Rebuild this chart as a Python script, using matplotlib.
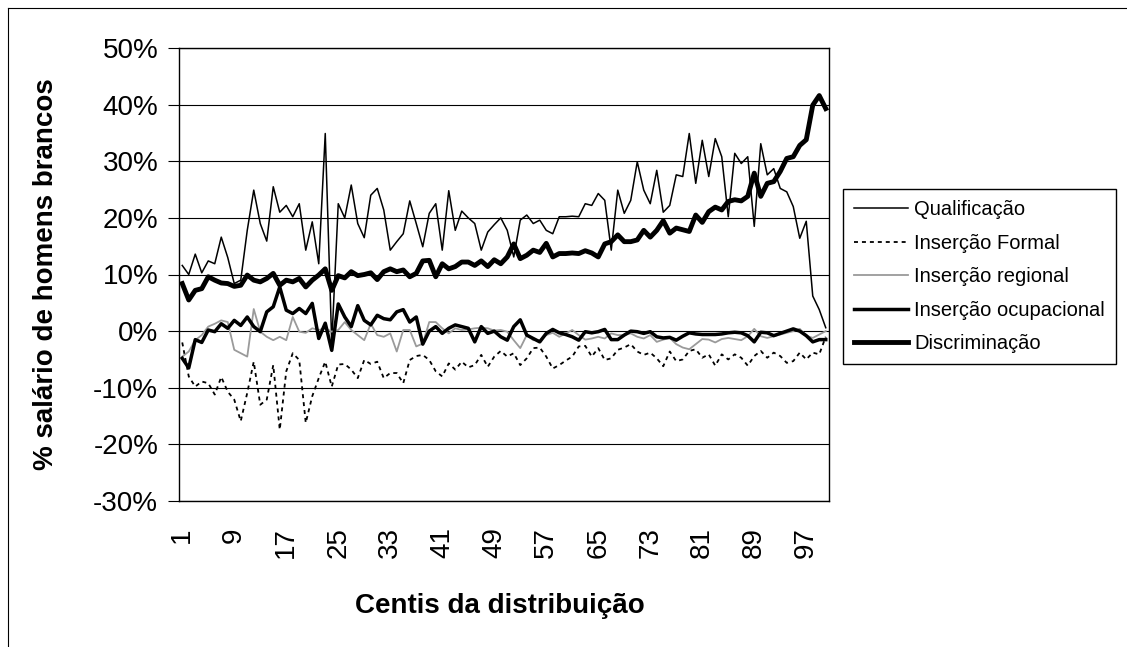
import matplotlib
matplotlib.use('Agg')
import matplotlib.pyplot as plt
from matplotlib.ticker import FuncFormatter
from matplotlib.lines import Line2D

plt.rcParams['font.family'] = ['Liberation Sans', 'DejaVu Sans']

centis = list(range(1, 101))
tick_centis = list(range(1, 100, 8))

qualificacao = [11.6, 10.0, 13.6, 10.3, 12.4, 11.9, 16.6, 13.0, 8.4, 9.0,
                17.8, 24.9, 19.0, 15.9, 25.5, 21.0, 22.2, 20.2, 22.5, 14.3,
                19.3, 11.9, 34.9, -2.2, 22.5, 20.0, 25.8, 19.0, 16.5, 24.0,
                25.2, 21.4, 14.3, 15.8, 17.2, 23.0, 19.0, 14.9, 20.8, 22.5,
                14.3, 24.8, 17.8, 21.2, 20.0, 19.0, 14.3, 17.5, 18.8, 20.0,
                17.8, 13.1, 19.6, 20.5, 19.0, 19.6, 17.8, 17.2, 20.2, 20.2,
                20.3, 20.2, 22.5, 22.2, 24.3, 23.1, 14.3, 24.9, 20.8, 23.1,
                29.9, 24.9, 22.5, 28.4, 21.0, 22.2, 27.6, 27.3, 34.9, 26.1,
                33.7, 27.3, 34.0, 30.8, 20.2, 31.4, 29.6, 30.8, 18.5, 33.1,
                27.6, 28.7, 25.2, 24.6, 22.0, 16.4, 19.4, 6.2, 3.8, 0.6]

insercao_formal = [-2.0, -8.0, -9.8, -8.9, -9.2, -11.2, -8.1, -10.7, -12.1, -15.9,
                   -10.9, -5.4, -13.0, -12.1, -6.0, -17.4, -7.1, -3.9, -5.1, -16.2,
                   -11.5, -8.3, -5.4, -9.8, -5.9, -5.8, -6.8, -8.3, -5.1, -5.8,
                   -5.4, -8.3, -7.4, -7.4, -9.2, -5.1, -4.4, -4.2, -5.1, -7.1,
                   -8.0, -5.7, -6.8, -5.4, -6.4, -6.0, -4.2, -6.3, -4.5, -3.5,
                   -4.5, -3.9, -6.0, -4.8, -3.0, -2.9, -4.5, -6.6, -6.0, -5.2,
                   -4.5, -2.7, -2.6, -4.5, -3.0, -5.1, -4.8, -3.3, -2.9, -2.3,
                   -3.6, -4.2, -3.8, -4.8, -6.2, -3.6, -5.3, -5.0, -3.5, -3.2,
                   -4.7, -4.1, -6.1, -4.1, -5.0, -4.1, -4.7, -6.1, -4.4, -3.5,
                   -4.7, -3.8, -4.4, -5.6, -5.3, -3.8, -5.0, -3.8, -4.1, -1.0]

insercao_regional = [-4.5, -3.6, -1.6, -0.7, 0.8, 1.3, 1.9, 1.6, -3.3, -3.9,
                     -4.5, 3.9, -0.1, -1.0, -1.6, -1.0, -1.6, 2.5, -0.1, -0.3,
                     0.5, 0.2, 0.5, -0.1, 0.2, 1.6, 0.2, -0.7, -1.6, 1.3,
                     -0.7, -1.0, -0.4, -3.6, 0.2, 0.2, -2.7, -2.2, 1.6, 1.6,
                     0.5, -0.4, 0.5, 0.2, 0.3, 0.5, 0.6, 0.5, 0.1, 0.2,
                     -0.1, -1.6, -3.0, -0.7, -1.6, -1.6, -0.7, -0.3, -1.0, -0.4,
                     0.2, -0.7, -1.5, -1.3, -1.0, -1.3, -0.4, -0.7, -0.7, -0.4,
                     -1.0, -1.3, -0.7, -1.9, -1.5, -1.2, -2.3, -2.9, -3.2, -2.3,
                     -1.4, -1.5, -2.0, -1.4, -1.2, -1.4, -1.6, -0.9, 0.4, -0.9,
                     -1.2, -0.9, -0.6, -0.3, 0.0, 0.4, -0.8, -1.2, -0.6, 0.0]

insercao_ocupacional = [-4.8, -6.5, -1.5, -2.0, 0.2, -0.1, 1.3, 0.5, 1.9, 1.0,
                        2.5, 0.8, -0.1, 3.4, 4.3, 7.8, 3.7, 3.1, 4.0, 3.1,
                        4.9, -1.3, 1.4, -3.4, 4.8, 2.5, 0.8, 4.5, 1.9, 1.1,
                        2.8, 2.2, 2.0, 3.4, 3.8, 1.6, 2.5, -2.3, 0.0, 0.8,
                        -0.4, 0.5, 1.1, 0.8, 0.5, -1.9, 0.8, -0.4, 0.0, -1.0,
                        -1.6, 0.8, 2.0, -0.7, -1.3, -1.9, -0.4, 0.3, -0.3, -0.6,
                        -1.0, -1.6, -0.1, -0.3, -0.1, 0.3, -1.5, -1.5, -0.7, 0.0,
                        -0.1, -0.4, -0.1, -1.0, -1.2, -1.1, -1.6, -0.9, -0.3, -0.5,
                        -0.6, -0.6, -0.6, -0.5, -0.3, -0.2, -0.3, -0.8, -1.9, -0.2,
                        -0.3, -0.8, -0.4, 0.0, 0.4, 0.0, -0.8, -1.9, -1.5, -1.5]

discriminacao = [8.4, 5.5, 7.2, 7.5, 9.6, 9.0, 8.5, 8.4, 7.9, 8.1,
                 9.9, 9.0, 8.7, 9.3, 10.2, 8.1, 9.0, 8.7, 9.3, 7.8,
                 9.0, 9.9, 11.0, 7.2, 9.8, 9.4, 10.5, 9.8, 10.0, 10.3,
                 9.1, 10.5, 11.0, 10.5, 10.8, 9.6, 10.2, 12.4, 12.5, 9.6,
                 11.9, 11.0, 11.4, 12.2, 12.2, 11.6, 12.4, 11.4, 12.6, 11.9,
                 13.1, 15.4, 12.8, 13.4, 14.3, 13.9, 15.5, 13.1, 13.7, 13.7,
                 13.8, 13.7, 14.2, 13.8, 13.1, 15.4, 15.8, 17.0, 15.8, 15.8,
                 16.1, 17.8, 16.6, 17.8, 19.5, 17.3, 18.2, 17.9, 17.6, 20.5,
                 19.2, 21.1, 21.9, 21.4, 22.9, 23.2, 23.0, 23.8, 27.9, 23.8,
                 26.1, 26.4, 28.2, 30.5, 30.8, 32.8, 33.8, 39.9, 41.6, 39.3]

W, H = 1127, 647
fig = plt.figure(figsize=(W / 100, H / 100), dpi=100)
fig.patch.set_facecolor('white')
ax = fig.add_axes([179 / W, 1 - 501 / H, 650 / W, 453 / H])

ax.plot(centis, qualificacao, color='black', lw=1.1, label='Qualificação')
ax.plot(centis, insercao_formal, color='black', lw=1.3, linestyle=(0, (2.2, 2.2)),
        label='Inserção Formal')
ax.plot(centis, insercao_regional, color='#9a9a9a', lw=1.3, label='Inserção regional')
ax.plot(centis, insercao_ocupacional, color='black', lw=2.5, label='Inserção ocupacional')
ax.plot(centis, discriminacao, color='black', lw=3.5, label='Discriminação')

ax.set_xlim(0.5, 100.5)
ax.set_ylim(-30, 50)
ax.set_yticks(range(-30, 51, 10))
ax.yaxis.set_major_formatter(FuncFormatter(lambda v, p: f'{v:.0f}%'))
ax.set_xticks(tick_centis)
ax.set_xticklabels([str(c) for c in tick_centis])

ax.grid(axis='y', color='black', lw=0.8)
ax.set_axisbelow(True)
for s in ax.spines.values():
    s.set_color('black')
    s.set_linewidth(1.0)

ax.tick_params(axis='x', length=0, pad=19, labelsize=20, labelrotation=90)
ax.tick_params(axis='y', length=8, width=0.8, direction='out', pad=7, labelsize=20)

ax.set_ylabel('% salário de homens brancos', fontsize=20, fontweight='bold')
ax.yaxis.set_label_coords((46 - 179) / 650, 0.5)
ax.yaxis.label.set_va('center')
ax.set_xlabel('Centis da distribuição', fontsize=20, fontweight='bold')
ax.xaxis.set_label_coords((500 - 179) / 650, (501 - 606) / 453)
ax.xaxis.label.set_va('center')

leg = ax.legend(loc='upper left', bbox_to_anchor=(843 / W, 1 - 189 / H),
                bbox_transform=fig.transFigure, frameon=True, fancybox=False,
                edgecolor='black', framealpha=1, fontsize=14.5, handlelength=2.7,
                handletextpad=0.3, labelspacing=0.72, borderpad=0.55,
                borderaxespad=0)
leg.get_frame().set_linewidth(1.0)

fig.add_artist(Line2D([8 / W, 8 / W], [0, 1 - 8 / H], transform=fig.transFigure,
                      color='black', lw=0.8))
fig.add_artist(Line2D([8 / W, 1], [1 - 8 / H, 1 - 8 / H], transform=fig.transFigure,
                      color='black', lw=0.8))

fig.savefig('out.png', dpi=100, facecolor='white')
